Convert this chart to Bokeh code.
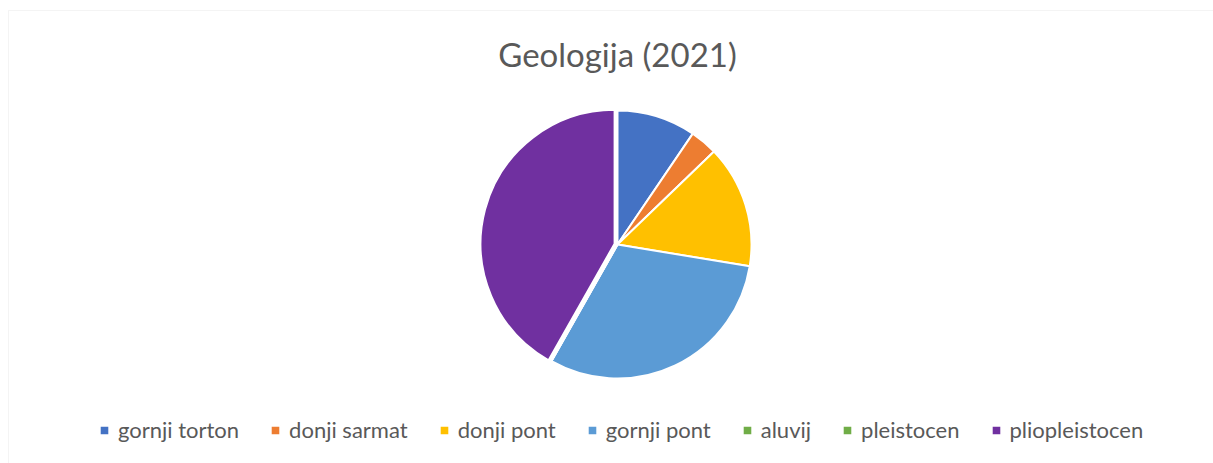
import math
from bokeh.plotting import figure
from bokeh.models import Range1d, Legend, LegendItem, Label, BoxAnnotation
from bokeh.embed import file_html
from bokeh.resources import INLINE

# ---- data ----
categories = ["gornji torton", "donji sarmat", "donji pont", "gornji pont",
              "aluvij", "pleistocen", "pliopleistocen"]
shares = [9.5, 3.3, 14.8, 30.6, 0.0, 0.0, 41.8]
colors = ["#4472C4", "#ED7D31", "#FFC000", "#5B9BD5", "#70AD47", "#70AD47", "#7030A0"]
explode = [0, 0, 0, 0, 0, 0, 3]
title_text = "Geologija (2021)"

W, H = 1213, 463
p = figure(width=W, height=H, output_backend="svg", toolbar_location=None,
           x_range=Range1d(0, W), y_range=Range1d(0, H), min_border=0)
p.axis.visible = False
p.grid.visible = False
p.outline_line_color = None
p.background_fill_color = "white"
p.border_fill_color = "white"

# chart frame border
p.add_layout(BoxAnnotation(left=8, right=W + 20, top=H - 10, bottom=-20,
                           fill_alpha=0, line_color="#d9d9d9", line_width=1))

cx, cy, r = 617, H - 244, 134
total = sum(shares)
cum = 0.0
items = []
for cat, v, col, ex in zip(categories, shares, colors, explode):
    c0 = cum / total
    cum += v
    c1 = cum / total
    start = math.pi / 2 - 2 * math.pi * c1
    end = math.pi / 2 - 2 * math.pi * c0
    if end - start < 1e-3:  # empty slice: keep it as a hairline, not a full disc
        start = end - 1e-3
    mid = (start + end) / 2
    x = cx + ex * math.cos(mid)
    y = cy + ex * math.sin(mid)
    rend = p.wedge(x=[x], y=[y], radius=r, start_angle=[start], end_angle=[end],
                   fill_color=col, line_color="white", line_width=2)
    items.append(LegendItem(label=cat, renderers=[rend]))

legend = Legend(items=items, orientation="horizontal", location=(98, 20),
                label_text_font="Lato", label_text_font_size="22px",
                label_text_color="#595959", glyph_width=12, glyph_height=12,
                label_standoff=8, spacing=30, padding=0, margin=0,
                border_line_color=None, background_fill_alpha=0)
p.add_layout(legend)

p.add_layout(Label(x=617, y=H - 53, text=title_text, text_align="center",
                   text_baseline="middle", text_font="Lato", text_font_size="33px",
                   text_color="#595959"))

open("out.html", "w").write(file_html(p, INLINE))
